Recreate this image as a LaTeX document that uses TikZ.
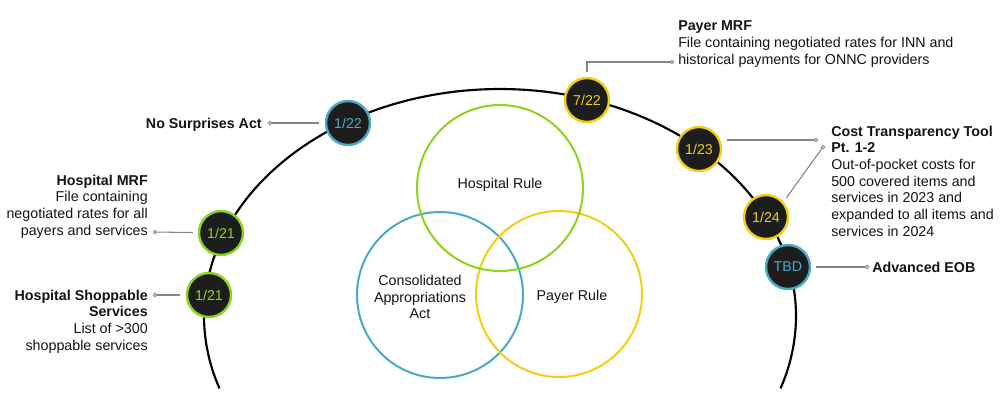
\documentclass[tikz,border=0pt]{standalone}
\usepackage{fontspec}
\setmainfont{Liberation Sans}
\definecolor{cgreen}{HTML}{8CD41E}
\definecolor{cblue}{HTML}{4AA9C6}
\definecolor{cyellow}{HTML}{F5CE14}
\definecolor{cdark}{HTML}{1D1D1D}
\definecolor{cgray}{HTML}{858585}
\definecolor{ctext}{HTML}{141414}
\newcommand{\lblR}[1]{\begin{tabular}[t]{@{}r@{}}#1\end{tabular}}
\newcommand{\lblL}[1]{\begin{tabular}[t]{@{}l@{}}#1\end{tabular}}
\begin{document}
\begin{tikzpicture}[x=0.75pt,y=-0.75pt,
  txtfont/.style={font=\fontsize{10.7}{12.5}\selectfont},
  datenode/.style={circle, fill=cdark, line width=1.8pt, minimum size=33pt, inner sep=0pt, txtfont},
  lbl/.style={inner sep=0pt, text=ctext, txtfont},
  vtxt/.style={inner sep=0pt, text=ctext, align=center, txtfont},
  venn/.style={circle, line width=1.5pt, minimum size=124.5pt, inner sep=0pt},
  leader/.style={draw=cgray, line width=0.8pt},
  leaddot/.style={draw=cgray, fill=white, line width=0.6pt}
]
\fill[white] (0,0) rectangle (1000,407);
\useasboundingbox (0,0) rectangle (1000,407);

% Venn diagram
\node[venn, draw=cblue] (car) at (440,295) {};
\node[venn, draw=cyellow] (payr) at (559,294) {};
\node[venn, draw=cgreen] (hosr) at (500,188) {};
\node[vtxt] (hosrt) at (500,185) {Hospital Rule};
\node[vtxt] (cart) at (420,297) {Consolidated\\Appropriations\\Act};
\node[vtxt] (payrt) at (572,297) {Payer Rule};

% timeline arc
\draw[line width=1.6pt, black] plot[domain=198.6:-18.6, samples=140, smooth] ({500+296*cos(\x)},{316-227*sin(\x)});

% date nodes
\node[datenode, draw=cblue, text=cblue] (d122) at (348,123) {1/22};
\node[datenode, draw=cyellow, text=cyellow] (d722) at (587,100) {7/22};
\node[datenode, draw=cyellow, text=cyellow] (d123) at (699,149) {1/23};
\node[datenode, draw=cyellow, text=cyellow] (d124) at (766,217) {1/24};
\node[datenode, draw=cblue, text=cblue] (dtbd) at (788,267) {TBD};
\node[datenode, draw=cgreen, text=cgreen] (d121a) at (221,233) {1/21};
\node[datenode, draw=cgreen, text=cgreen] (d121b) at (209,295) {1/21};

% labels
\node[lbl, anchor=base east] (nsa) at (262,128) {\textbf{No Surprises Act}};
\node[lbl, anchor=base east] (hmrf) at (148,185) {\lblR{\textbf{Hospital MRF}\\File containing\\negotiated rates for all\\payers and services}};
\node[lbl, anchor=base east] (hss) at (148,300) {\lblR{\textbf{Hospital Shoppable}\\\textbf{Services}\\List of >300\\shoppable services}};
\node[lbl, anchor=base west] (pmrf) at (678,31) {\lblL{\textbf{Payer MRF}\\File containing negotiated rates for INN and\\historical payments for ONNC providers}};
\node[lbl, anchor=base west] (ctt) at (831,136) {\lblL{\textbf{Cost Transparency Tool}\\\textbf{Pt. 1-2}\\Out-of-pocket costs for\\500 covered items and\\services in 2023 and\\expanded to all items and\\services in 2024}};
\node[lbl, anchor=base west] (eob) at (872,272) {\textbf{Advanced EOB}};

% leader end points
\coordinate (nsadot) at (270,123);
\coordinate (hmrfdot) at (155,232);
\coordinate (hssdot) at (155,295);
\coordinate (pmdot) at (672,62);
\coordinate (ctdota) at (816,140);
\coordinate (ctdotb) at (823,147);
\coordinate (eobdot) at (867,267);

% leaders
\draw[leader, shorten <=4.5pt] (d122) -- (nsadot);
\draw[leader, shorten <=3.75pt] (d121a) -- (hmrfdot);
\draw[leader, shorten <=4.5pt] (d121b) -- (hssdot);
\draw[leader, shorten <=3.75pt] (d722.north) |- (pmdot);
\draw[leader, shorten <=3.75pt] (d123.east |- ctdota) -- (ctdota);
\draw[leader, shorten <=3.5pt] (d124.41) -- (ctdotb);
\draw[leader, shorten <=3.75pt] (dtbd) -- (eobdot);
\foreach \c in {nsadot,hmrfdot,hssdot,pmdot,ctdota,ctdotb,eobdot}
  \draw[leaddot] (\c) circle (1.8);
\end{tikzpicture}
\end{document}
